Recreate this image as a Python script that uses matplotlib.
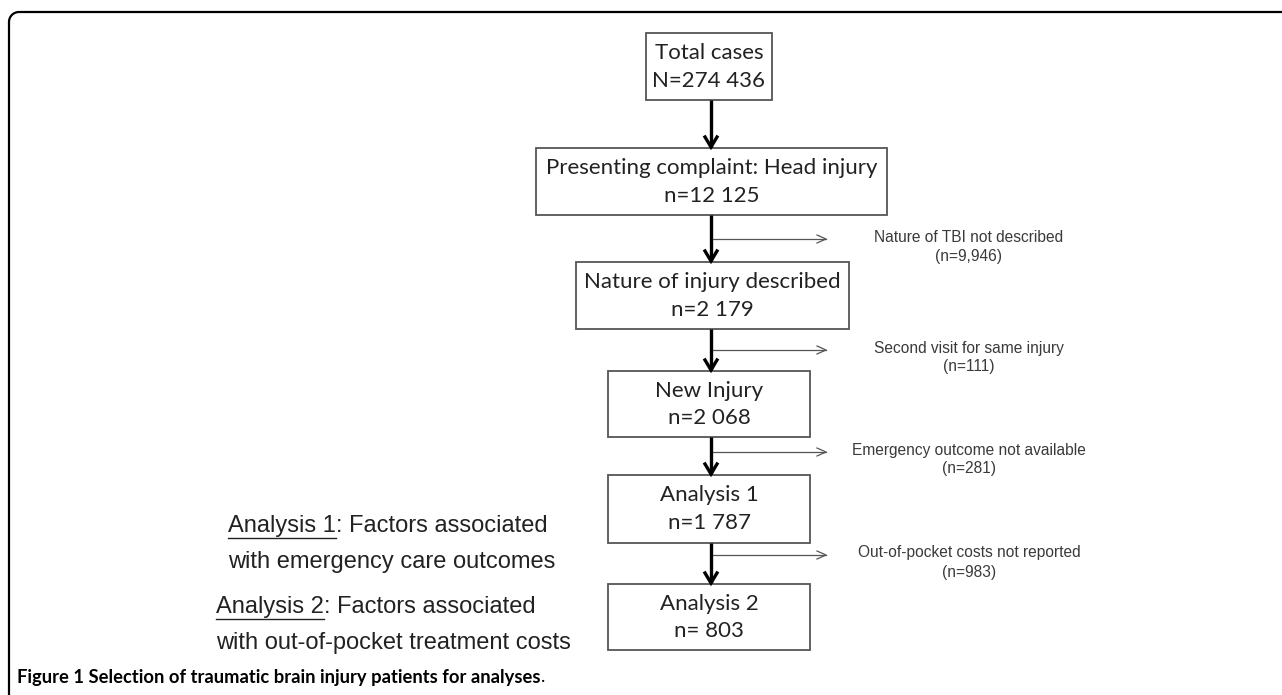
import matplotlib
matplotlib.use("Agg")
import matplotlib.pyplot as plt
from matplotlib.patches import Rectangle, Arc

W, H = 1282, 695
DPI = 100

# ---- data ----
box_titles = ["Total cases", "Presenting complaint: Head injury", "Nature of injury described",
              "New Injury", "Analysis 1", "Analysis 2"]
box_counts = ["N=274 436", "n=12 125", "n=2 179", "n=2 068", "n=1 787", "n= 803"]
excl_labels = ["Nature of TBI not described", "Second visit for same injury",
               "Emergency outcome not available", "Out-of-pocket costs not reported"]
excl_counts = ["(n=9,946)", "(n=111)", "(n=281)", "(n=983)"]
analysis_names = ["Analysis 1", "Analysis 2"]
analysis_rest = [": Factors associated", ": Factors associated"]
analysis_line2 = ["with emergency care outcomes", "with out-of-pocket treatment costs"]
caption_bold = "Figure 1 Selection of traumatic brain injury patients for analyses"
caption_end = "."

# ---- layout (pixels) ----
boxes = [(646, 33, 772, 100), (536, 148, 887, 215), (576, 262, 849, 329),
         (608, 371, 810, 437), (608, 475, 810, 543), (608, 584, 810, 650)]
side_y = [239, 350, 452, 555]
side_x0, side_x1 = 713, 826
excl_cx = 969
analysis_pos = [(228, 525), (216, 606)]

fig = plt.figure(figsize=(W / DPI, H / DPI), dpi=DPI)
ax = fig.add_axes([0, 0, 1, 1])
ax.set_xlim(0, W)
ax.set_ylim(H, 0)
ax.axis("off")

box_font = "Lato"
side_font = "Liberation Sans"
cap_font = "Lato"

# frame
ax.plot([9, 9], [H + 5, 22], color="black", lw=1.6, solid_capstyle="butt")
ax.plot([19, W + 5], [12, 12], color="black", lw=1.6, solid_capstyle="butt")
ax.add_patch(Arc((19, 22), 20, 20, theta1=180, theta2=270, color="black", lw=1.6))

# boxes
for (x0, y0, x1, y1), t, c in zip(boxes, box_titles, box_counts):
    ax.add_patch(Rectangle((x0, y0), x1 - x0, y1 - y0, fill=False, ec="#555555", lw=1.3))
    cx = (x0 + x1) / 2
    ax.text(cx, y0 + (y1 - y0) * 0.30, t, ha="center", va="center", fontsize=16,
            family=box_font, color="#222222")
    ax.text(cx, y0 + (y1 - y0) * 0.71, c, ha="center", va="center", fontsize=16,
            family=box_font, color="#222222")

# main arrows
cx = 711
for i in range(len(boxes) - 1):
    y1 = boxes[i][3]
    ny0 = boxes[i + 1][1]
    ax.plot([cx, cx], [y1, ny0 - 1], color="black", lw=2.4, solid_capstyle="butt")
    ax.plot([cx - 6, cx, cx + 6], [ny0 - 11, ny0 - 1, ny0 - 11], color="black", lw=2.4,
            solid_joinstyle="miter")

# side arrows + exclusion labels
for y, lab, cnt in zip(side_y, excl_labels, excl_counts):
    ax.plot([side_x0, side_x1], [y, y], color="#555555", lw=0.9)
    ax.plot([side_x1 - 9, side_x1, side_x1 - 9], [y - 4, y, y + 4], color="#555555", lw=0.9)
    ax.text(excl_cx, y - 2, lab, ha="center", va="center", fontsize=11.2, family=side_font,
            color="#3a3a3a")
    ax.text(excl_cx, y + 17, cnt, ha="center", va="center", fontsize=11.2, family=side_font,
            color="#3a3a3a")

# analysis labels with underline
fig.canvas.draw()
r = fig.canvas.get_renderer()
inv = ax.transData.inverted()
for (x, y), nm, rest, l2 in zip(analysis_pos, analysis_names, analysis_rest, analysis_line2):
    t1 = ax.text(x, y + 1, nm, ha="left", va="center", fontsize=17, family=side_font, color="#222222")
    bb = t1.get_window_extent(r)
    (bx0, by0), (bx1, by1) = inv.transform([[bb.x0, bb.y0], [bb.x1, bb.y1]])
    ax.text(bx1, y + 1, rest, ha="left", va="center", fontsize=17, family=side_font, color="#222222")
    ax.plot([bx0, bx1], [y + 13, y + 13], color="#222222", lw=1.0)
    ax.text(x, y + 37, l2, ha="left", va="center", fontsize=17, family=side_font, color="#222222")

# caption
tc = ax.text(17, 677, caption_bold, ha="left", va="center", fontsize=13.2, family=cap_font,
             fontweight="bold", color="black")
bb = tc.get_window_extent(r)
ex = inv.transform([[bb.x1, bb.y0]])[0][0]
ax.text(ex, 677, caption_end, ha="left", va="center", fontsize=13.2, family=cap_font,
        color="black")

fig.savefig("out.png", dpi=DPI)
